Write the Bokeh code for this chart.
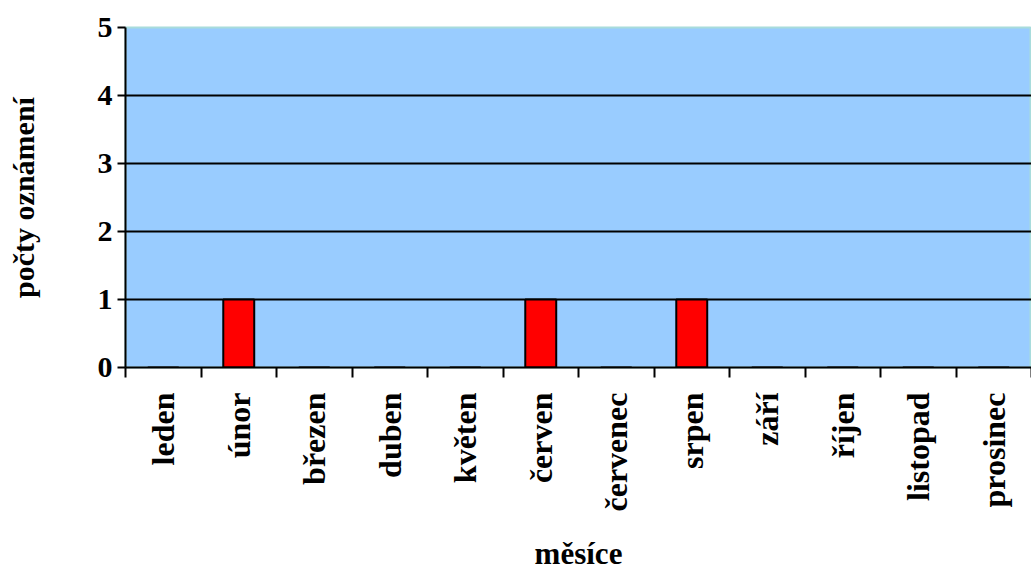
import math
from bokeh.plotting import figure
from bokeh.models import Range1d, FixedTicker
from bokeh.embed import file_html
from bokeh.resources import INLINE

months = ["leden", "únor", "březen", "duben", "květen", "červen",
          "červenec", "srpen", "září", "říjen", "listopad", "prosinec"]
counts = [0, 1, 0, 0, 0, 1, 0, 1, 0, 0, 0, 0]
y_ticks = [0, 1, 2, 3, 4, 5]

FONT = "Liberation Serif"

centers = [i + 0.5 for i in range(len(months))]
bounds = list(range(len(months) + 1))

p = figure(frame_width=906, frame_height=340,
           x_range=Range1d(0, len(months)), y_range=Range1d(0, 5),
           output_backend="svg", toolbar_location=None,
           min_border_left=125, min_border_right=0,
           min_border_top=27, min_border_bottom=206)

p.background_fill_color = "#99CCFF"
p.border_fill_color = "white"
p.outline_line_color = "#A8DCDC"
p.outline_line_width = 2

p.vbar(x=centers, top=counts, width=0.41, bottom=0,
       fill_color="#FF0000", line_color="black", line_width=2)

# x axis
xa = p.xaxis[0]
xa.ticker = FixedTicker(ticks=centers, minor_ticks=bounds)
xa.major_label_overrides = {c: m for c, m in zip(centers, months)}
xa.major_label_orientation = math.pi / 2
xa.major_tick_out = 0
xa.major_tick_in = 0
xa.minor_tick_out = 10
xa.minor_tick_in = 0
xa.minor_tick_line_color = "black"
xa.minor_tick_line_width = 2
xa.axis_line_color = "black"
xa.axis_line_width = 2
xa.major_label_text_font = FONT
xa.major_label_text_font_style = "bold"
xa.major_label_text_font_size = "32px"
xa.major_label_text_color = "black"
xa.major_label_standoff = 15
xa.axis_label = "měsíce"
xa.axis_label_text_font = FONT
xa.axis_label_text_font_style = "bold"
xa.axis_label_text_font_size = "31px"
xa.axis_label_text_color = "black"
xa.axis_label_standoff = 21

# y axis
ya = p.yaxis[0]
ya.ticker = FixedTicker(ticks=y_ticks)
ya.major_tick_out = 8
ya.major_tick_in = 0
ya.major_tick_line_color = "black"
ya.major_tick_line_width = 2
ya.minor_tick_line_color = None
ya.axis_line_color = "black"
ya.axis_line_width = 2
ya.major_label_text_font = FONT
ya.major_label_text_font_style = "bold"
ya.major_label_text_font_size = "30px"
ya.major_label_text_color = "black"
ya.major_label_standoff = 5
ya.axis_label = "počty oznámení"
ya.axis_label_text_font = FONT
ya.axis_label_text_font_style = "bold"
ya.axis_label_text_font_size = "30px"
ya.axis_label_text_color = "black"
ya.axis_label_standoff = 55

p.xgrid.grid_line_color = None
p.ygrid.ticker = FixedTicker(ticks=[1, 2, 3, 4])
p.ygrid.grid_line_color = "black"
p.ygrid.grid_line_width = 2

open("out.html", "w").write(file_html(p, INLINE))
